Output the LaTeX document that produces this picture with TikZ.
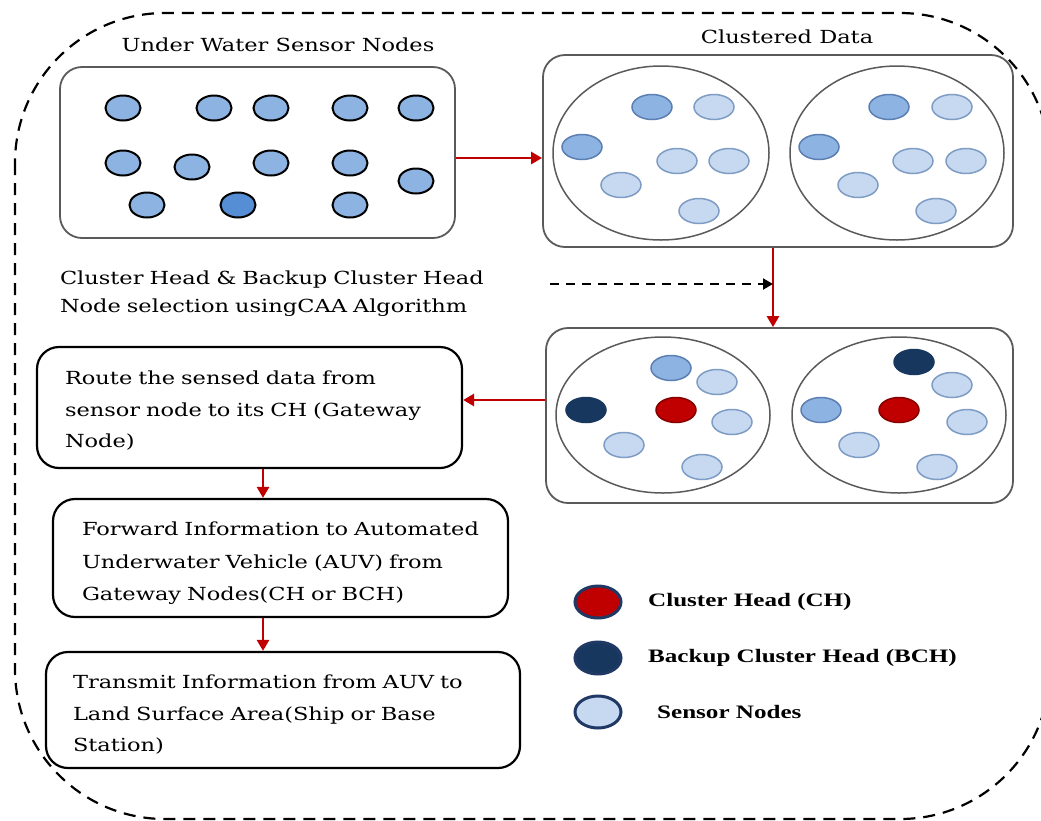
\documentclass[tikz,border=0pt]{standalone}
\usepackage{fontspec}
\setmainfont{DejaVu Serif}[FakeStretch=1.25]
\newfontfamily\legendfont{Liberation Serif}[FakeStretch=1.32]
\usetikzlibrary{shapes.geometric,arrows.meta}

\definecolor{rawblue}{HTML}{8DB3E2}
\definecolor{rawdark}{HTML}{558ED5}
\definecolor{midblue}{HTML}{8DB3E2}
\definecolor{midedge}{HTML}{5B7FB2}
\definecolor{lightblue}{HTML}{C6D9F1}
\definecolor{lightedge}{HTML}{7F9CC4}
\definecolor{chred}{HTML}{C00000}
\definecolor{bchnavy}{HTML}{17375E}
\definecolor{legedge}{HTML}{1F3864}
\definecolor{boxgray}{HTML}{5A5A5A}
\definecolor{arrowred}{HTML}{C00000}

% a line spread to the full text width
\newcommand{\fullline}[1]{\makebox[\linewidth][s]{#1}}

\tikzset{
  rawnode/.style={ellipse, draw=black, line width=2pt, fill=rawblue,
    minimum width=35pt, minimum height=25pt, inner sep=0pt},
  rawdk/.style={rawnode, fill=rawdark},
  midnode/.style={ellipse, draw=midedge, line width=1.5pt, fill=midblue,
    minimum width=40pt, minimum height=25pt, inner sep=0pt},
  litnode/.style={midnode, draw=lightedge, fill=lightblue},
  chnode/.style={midnode, draw=chred!70!black, fill=chred},
  bchnode/.style={midnode, draw=bchnavy, fill=bchnavy},
  cluster/.style={ellipse, draw=boxgray, line width=1.5pt, inner sep=0pt},
  panel/.style={rectangle, draw=boxgray, line width=1.8pt, rounded corners=22pt, inner sep=0pt},
  stepbox/.style={rectangle, draw=black, line width=2.2pt, rounded corners=22pt, inner sep=0pt},
  boxtext/.style={align=left, inner sep=0pt, font=\fontsize{18}{31.5}\selectfont},
  redarrow/.style={draw=arrowred, line width=2.6pt, -{Triangle[length=11pt,width=12pt]}},
  legmark/.style={ellipse, draw=legedge, line width=3pt, minimum width=46pt, minimum height=32pt, inner sep=0pt},
  legtext/.style={anchor=west, inner sep=0pt, font=\legendfont\bfseries\fontsize{19}{22}\selectfont},
  titletext/.style={inner sep=0pt, font=\fontsize{18}{20}\selectfont},
}

\begin{document}
\begin{tikzpicture}[x=1pt,y=-1pt]
  \useasboundingbox (0,0) rectangle (1041,820);

  % outer dashed boundary (its right side runs past the page edge)
  \draw[line width=2.2pt, dash pattern=on 12pt off 8pt, rounded corners=150pt]
    (15,13) rectangle (1050,819);

  % ---- raw sensor field ----
  \node[titletext] (t1) at (278,45) {Under Water Sensor Nodes};
  \node[panel, minimum width=395pt, minimum height=171pt] (field) at (257.5,152.5) {};
  \node[rawnode] (r1) at (123,108) {};
  \node[rawnode] (r2) at (214,108) {};
  \node[rawnode] (r3) at (271,108) {};
  \node[rawnode] (r4) at (350,108) {};
  \node[rawnode] (r5) at (416,108) {};
  \node[rawnode] (r6) at (123,163) {};
  \node[rawnode] (r7) at (192,167) {};
  \node[rawnode] (r8) at (271,163) {};
  \node[rawnode] (r9) at (350,163) {};
  \node[rawnode] (r10) at (416,181) {};
  \node[rawnode] (r11) at (147,205) {};
  \node[rawdk]   (r12) at (238,205) {};
  \node[rawnode] (r13) at (350,205) {};

  % ---- clustered data ----
  \node[titletext] (t2) at (787,37) {Clustered Data};
  \node[panel, minimum width=470pt, minimum height=192pt] (clus) at (778,151) {};
  \node[cluster, minimum width=216pt, minimum height=174pt] (ca) at (661,153) {};
  \node[cluster, minimum width=214pt, minimum height=174pt] (cb) at (897,153) {};
  \node[midnode] (a1) at (652,107) {};
  \node[litnode] (a2) at (714,107) {};
  \node[midnode] (a3) at (582,147) {};
  \node[litnode] (a4) at (677,161) {};
  \node[litnode] (a5) at (729,161) {};
  \node[litnode] (a6) at (621,185) {};
  \node[litnode] (a7) at (699,211) {};
  \node[midnode] (b1) at (889,107) {};
  \node[litnode] (b2) at (952,107) {};
  \node[midnode] (b3) at (819,147) {};
  \node[litnode] (b4) at (913,161) {};
  \node[litnode] (b5) at (966,161) {};
  \node[litnode] (b6) at (858,185) {};
  \node[litnode] (b7) at (936,211) {};

  % ---- clusters with heads selected ----
  \node[panel, minimum width=467pt, minimum height=175pt] (sel) at (779.5,415.5) {};
  \node[cluster, minimum width=214pt, minimum height=156pt] (sa) at (663,415) {};
  \node[cluster, minimum width=214pt, minimum height=156pt] (sb) at (899,415) {};
  \node[midnode] (c1) at (671,368) {};
  \node[litnode] (c2) at (717,382) {};
  \node[bchnode] (c3) at (586,410) {};
  \node[chnode]  (c4) at (676,410) {};
  \node[litnode] (c5) at (732,422) {};
  \node[litnode] (c6) at (624,445) {};
  \node[litnode] (c7) at (702,467) {};
  \node[bchnode] (d1) at (914,362) {};
  \node[litnode] (d2) at (952,385) {};
  \node[midnode] (d3) at (821,410) {};
  \node[chnode]  (d4) at (899,410) {};
  \node[litnode] (d5) at (967,422) {};
  \node[litnode] (d6) at (859,445) {};
  \node[litnode] (d7) at (937,467) {};

  % ---- selection caption ----
  \node[boxtext, text width=447pt, font=\fontsize{18}{28}\selectfont] (cap) at (283.5,294)
    {\fullline{Cluster Head \& Backup Cluster Head}\\Node selection usingCAA Algorithm};

  % ---- processing steps ----
  \node[stepbox, minimum width=425pt, minimum height=121pt] (route) at (249.5,407.5) {};
  \node[boxtext, text width=365pt] (routetxt) at (247.5,411)
    {\fullline{Route the sensed data from}\\
     \fullline{sensor node to its CH (Gateway}\\
     Node)};
  \node[stepbox, minimum width=455pt, minimum height=118pt] (fwd) at (280.5,558) {};
  \node[boxtext, text width=396pt, font=\fontsize{18}{32.5}\selectfont] (fwdtxt) at (280,563.5)
    {\fullline{Forward Information to Automated}\\
     \fullline{Underwater Vehicle (AUV) from}\\
     Gateway Nodes(CH or BCH)};
  \node[stepbox, minimum width=474pt, minimum height=116pt] (tx) at (283,710) {};
  \node[boxtext, text width=400pt] (txtxt) at (273,715)
    {\fullline{Transmit Information from AUV to}\\
     Land Surface Area(Ship or Base\\
     Station)};

  % ---- legend ----
  \node[legmark, fill=chred] (l1) at (598,602) {};
  \node[legmark, fill=bchnavy] (l2) at (598,658) {};
  \node[legmark, fill=lightblue] (l3) at (598,712) {};
  \node[legtext] (lt1) at (648,602) {Cluster Head (CH)};
  \node[legtext] (lt2) at (648,658) {Backup Cluster Head (BCH)};
  \node[legtext] (lt3) at (657,712) {Sensor Nodes};

  % ---- connectors ----
  \coordinate (vx) at (773,0);
  \coordinate (ax) at (263,0);
  \coordinate (dstart) at (550,284);
  \draw[redarrow] (field.east |- 0,158) -- (clus.west |- 0,158);
  \draw[redarrow] (vx |- clus.south) -- (vx |- sel.north);
  \draw[line width=2pt, dash pattern=on 9pt off 7pt, -{Triangle[length=10pt,width=11pt]}]
    (dstart) -- (vx |- dstart);
  \draw[redarrow] (sel.west |- 0,400) -- (route.east |- 0,400);
  \draw[redarrow] (ax |- route.south) -- (ax |- fwd.north);
  \draw[redarrow] (ax |- fwd.south) -- (ax |- tx.north);
\end{tikzpicture}
\end{document}
